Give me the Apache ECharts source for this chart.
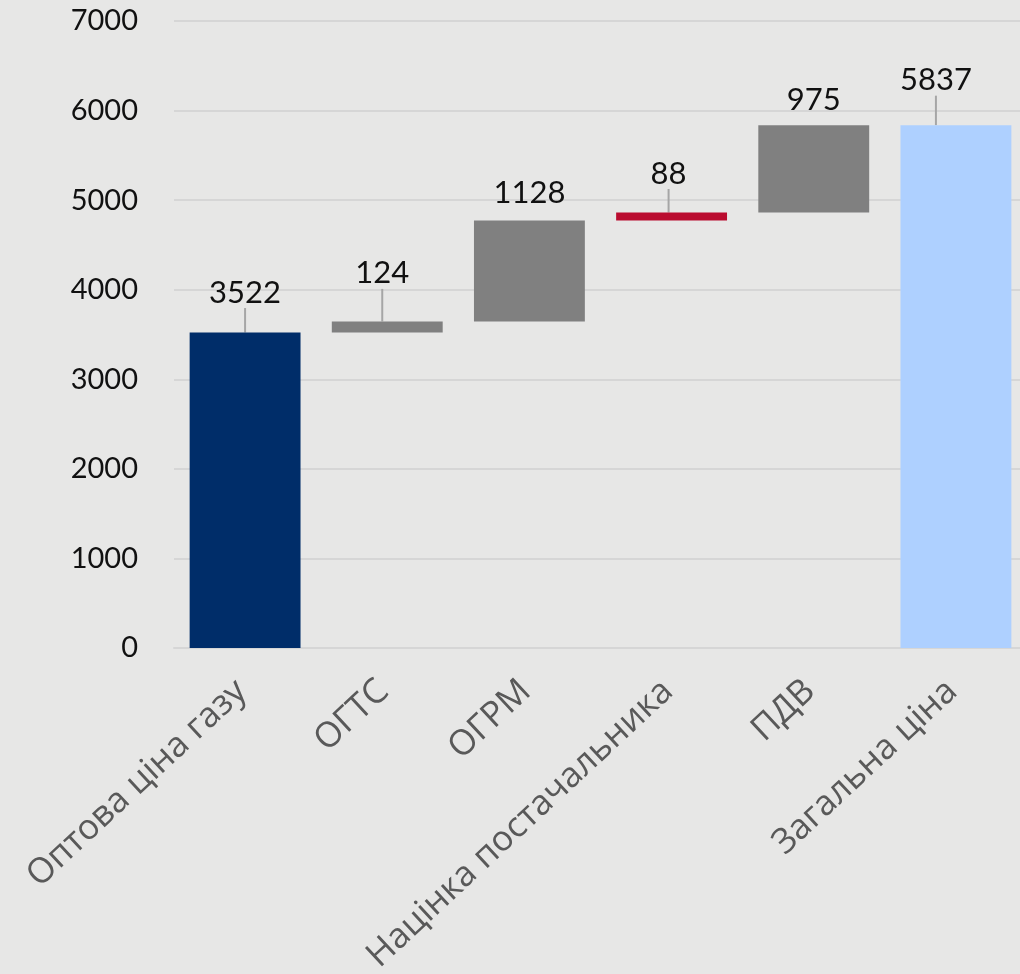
<!DOCTYPE html>
<html lang="uk">
<head>
    <meta charset="UTF-8">
    <title>Структура ціни газу</title>
    <script src="https://cdn.jsdelivr.net/npm/echarts@6/dist/echarts.min.js"></script>
    <style>
        html, body { margin: 0; padding: 0; background: #e7e7e6; }
    </style>
</head>
<body>
    <div id="main" style="width: 1020px; height: 974px;"></div>
    <script>
        // складові ціни газу
        const categories = ["Оптова ціна газу", "ОГТС", "ОГРМ", "Націнка постачальника", "ПДВ", "Загальна ціна"];
        const values = [3522, 124, 1128, 88, 975, 5837];
        // true = стовпчик від нуля (підсумок), false = приріст
        const isTotal = [true, false, false, false, false, true];
        const barColors = ["#002d69", "#808080", "#808080", "#ba0c2f", "#808080", "#aed0ff"];
        const yTicks = [0, 1000, 2000, 3000, 4000, 5000, 6000, 7000];

        // зсув підписів над стовпчиками (px)
        const labelShift = [[0, -25], [-5, -33], [0, -12], [-3, -24], [0, -10], [-20, -30]];
        const showGuide = [true, true, false, true, false, true];

        // база для «плаваючих» стовпчиків
        const base = [];
        let running = 0;
        values.forEach((v, i) => {
            if (isTotal[i]) {
                base.push(0);
                running = v;
            } else {
                base.push(running);
                running += v;
            }
        });

        const chart = echarts.init(document.getElementById("main"));
        const option = {
            backgroundColor: "#e7e7e6",
            animation: false,
            grid: [
                { left: 174, right: -7, top: 21, bottom: 326, outerBoundsMode: "none", containLabel: false },
                // окрема сітка лише для підписів категорій (трохи зсунута)
                { left: 193, right: -26, top: 21, bottom: 326, outerBoundsMode: "none", containLabel: false }
            ],
            xAxis: [
                {
                    type: "category",
                    data: categories,
                    axisLine: { lineStyle: { color: "#d6d6d6", width: 2 } },
                    axisTick: { show: false },
                    axisLabel: { show: false }
                },
                {
                    type: "category",
                    gridIndex: 1,
                    data: categories,
                    axisLine: { show: false },
                    axisTick: { show: false },
                    splitLine: { show: false },
                    axisLabel: {
                        rotate: 43,
                        interval: 0,
                        margin: 17,
                        padding: [0, 31, 0, 0],
                        color: "#595959",
                        fontFamily: "Open Sans",
                        fontSize: 35
                    }
                }
            ],
            yAxis: [
                {
                    type: "value",
                    min: yTicks[0],
                    max: yTicks[yTicks.length - 1],
                    interval: 1000,
                    axisLine: { show: false },
                    axisTick: { show: false },
                    splitLine: { lineStyle: { color: "#d6d6d6", width: 2 } },
                    axisLabel: {
                        margin: 36,
                        color: "#111",
                        fontFamily: "Lato",
                        fontSize: 29,
                        formatter: (v) => String(v)
                    }
                },
                { type: "value", gridIndex: 1, show: false }
            ],
            series: [
                {
                    type: "bar",
                    stack: "w",
                    barWidth: "78%",
                    silent: true,
                    itemStyle: { color: "transparent" },
                    data: base
                },
                {
                    type: "bar",
                    stack: "w",
                    barWidth: "78%",
                    data: values.map((v, i) => ({
                        value: v,
                        itemStyle: { color: barColors[i] },
                        labelLine: { show: showGuide[i] }
                    })),
                    label: {
                        show: true,
                        position: "top",
                        distance: 0,
                        color: "#111",
                        fontFamily: "Lato",
                        fontSize: 31,
                        lineHeight: 30
                    },
                    labelLayout: function (p) {
                        const s = labelShift[p.dataIndex];
                        return { dx: s[0], dy: s[1] };
                    },
                    labelLine: {
                        show: true,
                        lineStyle: { color: "#a6a6a6", width: 2 }
                    }
                }
            ]
        };
        chart.setOption(option);
    </script>
</body>
</html>
